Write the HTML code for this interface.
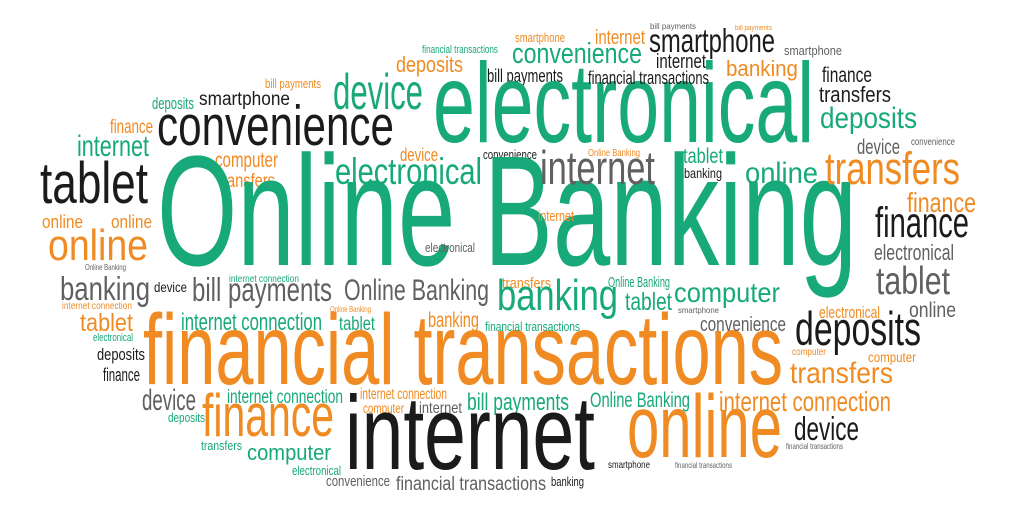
<!DOCTYPE html>
<html>
<head>
<meta charset="utf-8">
<style>
html,body{margin:0;padding:0;background:#fff;}
#cloud{position:relative;width:1024px;height:515px;overflow:hidden;background:#fff;}
#cloud span{position:absolute;white-space:nowrap;line-height:1;transform-origin:0 0;
font-family:"Liberation Sans Narrow","Liberation Sans",sans-serif;}
</style>
</head>
<body>
<div id="cloud"></div>
<script>
const C={g:"#17a97a",o:"#ef8b22",k:"#1b1b1b",y:"#606060"};
const words=[
["financial transactions","g",422,55,11,76],
["deposits","o",396,73,22,67],
["bill payments","k",487,83,18,76],
["bill payments","o",265,89,12.5,56],
["deposits","g",152,110,16.5,42],
["smartphone","k",199,107,19,91],
["device","g",333,110,50,90],
["electronical","g",433,145,113,381],
["finance","o",110,135,19,43],
["convenience","k",157,148,57,237],
["internet","g",77,158,30,72],
["computer","o",215,168,21,63],
["transfers","o",218,189,19,57],
["device","o",400,162,18,38],
["electronical","g",335,185,37,147],
["convenience","k",483,159,13,54],
["tablet","k",40,205,58,108],
["online","o",42,229,18,41],
["online","o",111,229,18,41],
["online","o",48,262,44,100],
["Online Banking","g",157,270,157,700],
["electronical","y",425,253,12.5,50],
["smartphone","o",515,43,12.5,50],
["internet","o",595,45,20,50],
["bill payments","y",650,29,8.5,46],
["bill payments","o",735,31,7,37],
["smartphone","k",649,53,33,126],
["smartphone","y",784,56,12.5,58],
["convenience","g",512,65,29,130],
["internet","k",656,69,20,50],
["banking","o",726,77,22,72],
["financial transactions","k",588,85,18,121],
["finance","k",822,83,21,50],
["transfers","k",819,103,22,72],
["deposits","g",820,130,30,97],
["device","y",857,155,21,43],
["convenience","y",911,147,10,44],
["Online Banking","o",588,158,10,52],
["internet","y",540,185,47,115],
["tablet","g",683,164,21,40],
["banking","k",684,178,14,38],
["online","g",745,185,30,73],
["transfers","o",825,185,45,135],
["finance","o",907,213,28,69],
["finance","k",875,239,43,94],
["electronical","y",874,261,22,80],
["internet","o",538,222,15,36],
["Online Banking","y",85,270,8.5,41],
["banking","y",60,301,33,90],
["device","k",154,292,14,33],
["bill payments","y",192,302,33,140],
["internet connection","g",229,284,10,70],
["Online Banking","y",344,302,30,145],
["internet connection","o",62,311,10,70],
["Online Banking","o",330,312,8.5,41],
["tablet","o",80,333,25,53],
["electronical","g",93,343,11,40],
["internet connection","g",181,332,24,141],
["tablet","g",339,332,19,36],
["banking","o",428,328,21,51],
["financial transactions","o",143,387,100,640],
["deposits","k",97,361,17,48],
["finance","k",103,382,18,37],
["device","y",142,412,30,54],
["finance","o",202,438,60,132],
["internet connection","g",227,405,19,116],
["internet connection","o",360,401,16,87],
["computer","o",363,413,14,41],
["internet","y",419,415,16,43],
["bill payments","g",467,412,24,102],
["deposits","g",168,423,12.5,37],
["internet","k",345,472,105,250],
["transfers","g",201,451,12.5,41],
["computer","g",247,461,22,84],
["electronical","g",292,476,12.5,49],
["convenience","y",326,487,15,64],
["financial transactions","y",396,492,19,150],
["transfers","o",502,289,15,49],
["Online Banking","g",608,288,15,62],
["banking","g",497,312,44,121],
["tablet","g",625,312,25,47],
["computer","g",674,303,28,106],
["smartphone","y",678,313,8.5,41],
["financial transactions","g",485,332,12.5,95],
["convenience","y",700,332,20,86],
["tablet","y",876,296,39,74],
["online","y",909,318,21,47],
["electronical","o",819,319,17,61],
["deposits","k",795,346,47,126],
["computer","o",792,357,10,34],
["computer","o",868,362,14,48],
["transfers","o",790,385,30,103],
["Online Banking","g",590,408,21,100],
["internet connection","o",719,412,28,172],
["online","o",627,459,89,155],
["device","k",794,441,33,65],
["financial transactions","y",786,449,8.5,57],
["smartphone","k",608,470,10,42],
["financial transactions","y",675,468,8.5,57],
["banking","k",551,487,12.5,33]
];
const cloud=document.getElementById('cloud');
words.forEach(function(w){
  const el=document.createElement('span');
  el.textContent=w[0];
  
  
  el.style.color=C[w[1]];
  el.style.fontSize=w[4]+'px';
  el.style.left=w[2]+'px';
  el.style.top=(w[3]-0.87*w[4])+'px';
  cloud.appendChild(el);
  const mw=el.getBoundingClientRect().width;
  if(mw>0){el.style.transform='scaleX('+(w[5]/mw)+')';}
});
</script>
</body>
</html>
